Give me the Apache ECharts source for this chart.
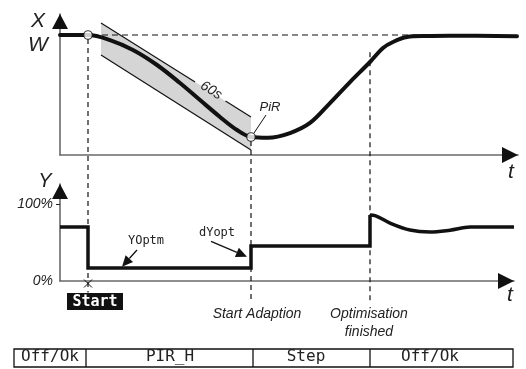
<!DOCTYPE html>
<html><head><meta charset="utf-8">
<script src="https://cdn.jsdelivr.net/npm/echarts@6/dist/echarts.min.js"></script>
<style>html,body{margin:0;padding:0;background:#fff}#c{width:526px;height:369px}</style>
</head><body><div id="c"></div>
<script>
// ---- Top chart: controlled variable X (W = setpoint = 100) over time t ----
const curveT = [0, 28, 50, 73, 97, 120, 140, 160, 177, 191, 208, 230, 250, 270, 290, 310, 323, 333, 347, 367, 390, 457];
const curveX = [100, 100, 95.8, 87.5, 75, 60, 45.8, 31.7, 20.8, 15, 14.4, 18.3, 26.7, 43.3, 60.8, 77.5, 89.2, 94.2, 98.3, 99.2, 99.4, 99];
// 60 s gradient band (parallelogram)
const bandT = [41, 191];
const bandTop = [110, 31.7];
const bandBottom = [83.3, 4.2];
// marked points (start of PIR, PiR point)
const markT = [28, 191];
const markX = [100, 15];
// ---- Bottom chart: output Y (%) ----
const stepT = [0, 28, 28, 191, 191, 310, 310];
const stepY = [70, 70, 17, 17, 45.5, 45.5, 85.7];
const decayT = [310, 315, 330, 350, 370, 390, 410, 430, 454];
const decayY = [85.7, 85, 75.3, 66.2, 63.6, 66, 70, 70.2, 70];
const yTicks = [0, 100];
// events
const eventT = [28, 191, 310];
const eventTopX = [100, 15, 89];
const eventBottomY = [-15, -28, -28];
const eventLabels = ['Start', 'Start Adaption', 'Optimisation\nfinished'];
// status bar
const phaseLabels = ['Off/Ok', 'PIR_H', 'Step', 'Off/Ok'];

const zip = (a, b) => a.map((v, i) => [v, b[i]]);
const chart = echarts.init(document.getElementById('c'));
const axisCol = '#6a6a6a';
const LS = "'Liberation Sans', Arial, sans-serif";
const MONO = "'DejaVu Sans Mono', monospace";

function xAx(g, max) {
  return { gridIndex: g, type: 'value', min: 0, max: max,
    axisLine: { show: true, onZero: false, lineStyle: { color: axisCol, width: 1.6 } },
    axisTick: { show: false }, axisLabel: { show: false }, splitLine: { show: false } };
}
const option = {
  animation: false,
  backgroundColor: '#fff',
  grid: [
    { left: 60, top: 14, width: 458, height: 141, outerBoundsMode: 'none', containLabel: false },
    { left: 60, top: 184, width: 454, height: 97, outerBoundsMode: 'none', containLabel: false }
  ],
  xAxis: [xAx(0, 458), xAx(1, 454)],
  yAxis: [
    { gridIndex: 0, type: 'value', min: 0, max: 117.5,
      axisLine: { show: true, onZero: false, lineStyle: { color: axisCol, width: 1.6 } },
      axisTick: { show: false }, axisLabel: { show: false }, splitLine: { show: false } },
    { gridIndex: 1, type: 'value', min: 0, max: 126, interval: 100,
      axisLine: { show: true, onZero: false, lineStyle: { color: axisCol, width: 1.6 } },
      axisTick: { show: true, length: 4, customValues: [100], lineStyle: { color: '#222', width: 1 } },
      axisLabel: { show: true, customValues: yTicks, margin: 7, formatter: v => v + '%',
        fontFamily: LS, fontStyle: 'italic', fontSize: 14, color: '#222' },
      splitLine: { show: false } }
  ],
  series: [
    { type: 'custom', xAxisIndex: 0, yAxisIndex: 0, silent: true, z: 1,
      data: [[0]],
      renderItem: (params, api) => {
        const tl = api.coord([bandT[0], bandTop[0]]), tr = api.coord([bandT[1], bandTop[1]]);
        const br = api.coord([bandT[1], bandBottom[1]]), bl = api.coord([bandT[0], bandBottom[0]]);
        const lerp = (a, b, f) => [a[0] + (b[0] - a[0]) * f, a[1] + (b[1] - a[1]) * f];
        const g1 = lerp(tl, tr, 0.627), g2 = lerp(tl, tr, 0.83);
        return { type: 'group', children: [
          { type: 'polygon', shape: { points: [tl, tr, br, bl] }, style: { fill: '#d5d5d5' } },
          { type: 'line', shape: { x1: bl[0], y1: bl[1], x2: br[0], y2: br[1] }, style: { stroke: '#111', lineWidth: 1.2 } },
          { type: 'line', shape: { x1: tl[0], y1: tl[1], x2: g1[0], y2: g1[1] }, style: { stroke: '#111', lineWidth: 1.2 } },
          { type: 'line', shape: { x1: g2[0], y1: g2[1], x2: tr[0], y2: tr[1] }, style: { stroke: '#111', lineWidth: 1.2 } }
        ] };
      } },
    { type: 'line', xAxisIndex: 0, yAxisIndex: 0, data: zip(curveT, curveX), smooth: 0.35,
      showSymbol: false, symbol: 'none', clip: false, z: 3, lineStyle: { color: '#111', width: 4, cap: 'round' } },
    { type: 'scatter', xAxisIndex: 0, yAxisIndex: 0, data: zip(markT, markX), symbol: 'circle', symbolSize: 8.5, z: 5,
      itemStyle: { color: '#fff', borderColor: '#111', borderWidth: 1.2 } },
    { type: 'line', xAxisIndex: 1, yAxisIndex: 1, data: zip(stepT, stepY), showSymbol: false, symbol: 'none', clip: false, z: 3,
      lineStyle: { color: '#111', width: 3.5, join: 'miter' } },
    { type: 'line', xAxisIndex: 1, yAxisIndex: 1, data: zip(decayT, decayY), smooth: 0.35, showSymbol: false,
      symbol: 'none', clip: false, z: 3, lineStyle: { color: '#111', width: 3.5 } }
  ]
};
chart.setOption(option);

const p0 = (t, v) => chart.convertToPixel({ gridIndex: 0 }, [t, v]);
const p1 = (t, v) => chart.convertToPixel({ gridIndex: 1 }, [t, v]);
const G = [];
const txt = (x, y, text, font, opts) => G.push(Object.assign({ type: 'text', x: x, y: y, z: 20,
  style: Object.assign({ text: text, font: font, fill: '#222', align: 'center', verticalAlign: 'middle',
    textAlign: 'center', textVerticalAlign: 'middle' }, (opts && opts.style) || {}) }, (opts && opts.el) || {}));
const ln = (a, b, w, dash, z) => G.push({ type: 'line', z: z || 10, shape: { x1: a[0], y1: a[1], x2: b[0], y2: b[1] },
  style: { stroke: '#111', lineWidth: w, lineDash: dash || null } });
const poly = (pts) => G.push({ type: 'polygon', z: 12, shape: { points: pts }, style: { fill: '#111' } });

// axis arrowheads (black triangles, tip at the axis end)
const xe0 = p0(458, 0), ye0 = p0(0, 117.5), xe1 = p1(454, 0), ye1 = p1(0, 126);
poly([[xe0[0] - 16, xe0[1] - 8], [xe0[0], xe0[1]], [xe0[0] - 16, xe0[1] + 8]]);
poly([[xe1[0] - 16, xe1[1] - 8], [xe1[0], xe1[1]], [xe1[0] - 16, xe1[1] + 8]]);
poly([[ye0[0] - 8, ye0[1] + 15], [ye0[0], ye0[1]], [ye0[0] + 8, ye0[1] + 15]]);
poly([[ye1[0] - 8, ye1[1] + 15], [ye1[0], ye1[1]], [ye1[0] + 8, ye1[1] + 15]]);
// dashed setpoint line W
const wA = p0(markT[0], 100), wB = p0(360, 100);
ln([wA[0] + 4, wA[1]], wB, 1.2, [6, 4], 2);
// vertical dashed event lines
eventT.forEach((t, i) => {
  const a = p0(t, eventTopX[i]), b = p1(t, eventBottomY[i]);
  ln([a[0], a[1] + 4], b, 1.2, [5, 4], 2);
});
// axis letters
const wLev = p0(0, 100);
txt(ye0[0] - 22, ye0[1] + 7, 'X', 'italic 21px ' + LS);
txt(wLev[0] - 22, wLev[1] + 10, 'W', 'italic 21px ' + LS);
txt(xe0[0] - 7, xe0[1] + 17, 't', 'italic 21px ' + LS);
txt(ye1[0] - 15, ye1[1] - 3, 'Y', 'italic 20px ' + LS);
txt(xe1[0] - 4, xe1[1] + 14, 't', 'italic 21px ' + LS);
// 60s label on band edge
{
  const tl = p0(bandT[0], bandTop[0]), tr = p0(bandT[1], bandTop[1]);
  const ang = Math.atan2(tr[1] - tl[1], tr[0] - tl[0]);
  const f = 0.728, cx = tl[0] + (tr[0] - tl[0]) * f, cy = tl[1] + (tr[1] - tl[1]) * f;
  txt(cx + 1, cy - 1, '60s', 'italic 14px ' + LS, { el: { rotation: -ang } });
}
// PiR label
{
  const p = p0(markT[1], markX[1]);
  txt(p[0] + 19, p[1] - 30, 'PiR', 'italic 13px ' + LS);
  ln([p[0] + 3, p[1] - 4], [p[0] + 15, p[1] - 22], 1);
}
// arrows with filled heads
function arrow(a, b) {
  const ang = Math.atan2(b[1] - a[1], b[0] - a[0]), L = 11, W = 5;
  const bx = b[0] - L * Math.cos(ang), by = b[1] - L * Math.sin(ang);
  ln(a, [bx, by], 1.3);
  poly([b, [bx + W * Math.sin(ang), by - W * Math.cos(ang)], [bx - W * Math.sin(ang), by + W * Math.cos(ang)]]);
}
const yo = p1(86, 51.9);
txt(yo[0], yo[1], 'YOptm', '12px ' + MONO);
arrow(p1(77, 40.3), p1(62, 18.5));
const dy = p1(157, 62.3);
txt(dy[0], dy[1], 'dYopt', '12px ' + MONO);
arrow(p1(151, 51.5), p1(187, 31.5));
// Start marker x and box
{
  const s = p1(eventT[0], 0);
  const c = [s[0], s[1] + 2.5];
  ln([c[0] - 4, c[1] - 4], [c[0] + 4, c[1] + 4], 1);
  ln([c[0] - 4, c[1] + 4], [c[0] + 4, c[1] - 4], 1);
  G.push({ type: 'rect', z: 15, shape: { x: s[0] - 21, y: s[1] + 12, width: 56, height: 17 }, style: { fill: '#111' } });
  txt(s[0] + 7, s[1] + 21, eventLabels[0], 'bold 15px ' + MONO, { style: { fill: '#fff' } });
}
// event labels below
{
  const a = p1(eventT[1], 0), o = p1(eventT[2], 0);
  txt(a[0] + 6, 314, eventLabels[1], 'italic 14px ' + LS);
  const parts = eventLabels[2].split('\n');
  txt(o[0] - 1, 314, parts[0], 'italic 14px ' + LS);
  txt(o[0] - 1, 332, parts[1], 'italic 14px ' + LS);
}
// status bar
{
  const bounds = [14, 86, 253, 370, 513];
  const centers = [50, 170, 306, 430];
  const top = 349, h = 18;
  G.push({ type: 'rect', z: 10, shape: { x: bounds[0], y: top, width: bounds[4] - bounds[0], height: h },
    style: { fill: 'none', stroke: '#111', lineWidth: 1.3 } });
  for (let i = 1; i < 4; i++) ln([bounds[i], top], [bounds[i], top + h], 1.3);
  phaseLabels.forEach((s, i) => txt(centers[i], top + h / 2 - 1, s, '16px ' + MONO));
}
chart.setOption({ graphic: { elements: G } });
</script></body></html>
